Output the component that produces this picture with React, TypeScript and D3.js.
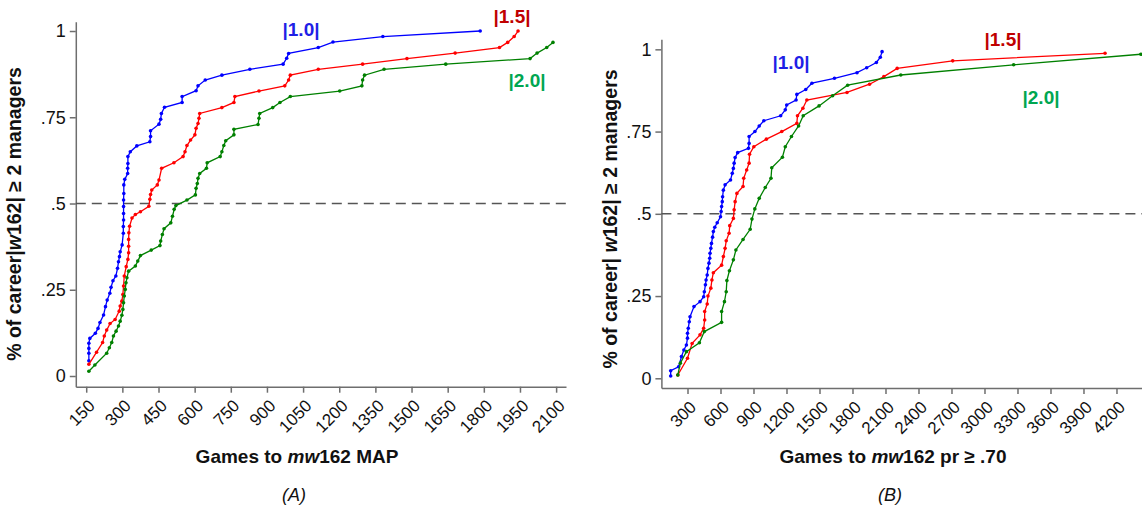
import React, { useEffect, useRef } from "react";
import * as d3 from "d3";

// (A) games to mw162 MAP  -> [games, share]
const aBlue: [number, number][] = [[161,0.044],[161,0.066],[161,0.080],[161,0.095],[165,0.109],[188,0.124],[199,0.138],[207,0.155],[222,0.177],[230,0.201],[237,0.220],[248,0.240],[253,0.257],[261,0.276],[273,0.290],[280,0.312],[284,0.331],[288,0.346],[291,0.360],[299,0.380],[304,0.414],[304,0.433],[305,0.452],[305,0.471],[305,0.491],[305,0.510],[306,0.529],[306,0.554],[310,0.570],[322,0.587],[322,0.602],[323,0.616],[323,0.636],[333,0.650],[360,0.667],[414,0.679],[417,0.694],[417,0.711],[452,0.730],[459,0.744],[462,0.761],[475,0.779],[548,0.793],[548,0.810],[606,0.827],[614,0.841],[644,0.858],[713,0.872],[829,0.889],[967,0.904],[982,0.921],[990,0.935],[1113,0.952],[1174,0.968],[1381,0.984],[1785,1.0]];
const aRed: [number, number][] = [[161,0.034],[193,0.069],[218,0.097],[225,0.116],[235,0.133],[249,0.152],[270,0.164],[287,0.188],[291,0.203],[298,0.217],[302,0.236],[305,0.261],[308,0.290],[316,0.317],[323,0.338],[326,0.357],[326,0.376],[326,0.396],[327,0.415],[330,0.434],[340,0.458],[354,0.468],[375,0.476],[410,0.492],[414,0.512],[417,0.526],[422,0.539],[445,0.554],[452,0.568],[463,0.602],[514,0.618],[552,0.636],[560,0.650],[568,0.668],[583,0.684],[601,0.699],[606,0.718],[614,0.732],[618,0.747],[621,0.761],[713,0.778],[763,0.793],[767,0.810],[867,0.826],[974,0.841],[990,0.858],[997,0.872],[1113,0.889],[1297,0.904],[1481,0.920],[1681,0.936],[1865,0.952],[1899,0.967],[1926,0.984],[1942,1.0]];
const aGreen: [number, number][] = [[161,0.014],[186,0.032],[235,0.066],[246,0.082],[256,0.097],[263,0.116],[274,0.130],[284,0.145],[291,0.159],[298,0.176],[302,0.193],[305,0.212],[308,0.232],[312,0.251],[315,0.270],[319,0.285],[326,0.304],[354,0.319],[364,0.333],[375,0.349],[420,0.365],[456,0.378],[459,0.391],[466,0.410],[473,0.427],[501,0.444],[508,0.463],[515,0.483],[522,0.494],[568,0.510],[603,0.525],[606,0.544],[611,0.558],[614,0.573],[621,0.587],[649,0.602],[652,0.618],[706,0.636],[713,0.650],[721,0.668],[729,0.682],[763,0.699],[763,0.715],[863,0.729],[867,0.747],[870,0.761],[924,0.778],[954,0.793],[997,0.810],[1202,0.826],[1294,0.841],[1297,0.858],[1305,0.872],[1386,0.889],[1642,0.904],[1992,0.920],[2021,0.936],[2061,0.952],[2087,0.967]];

// (B) games to mw162 pr >= .70
const bBlue: [number, number][] = [[147,0.007],[147,0.023],[219,0.035],[245,0.066],[267,0.086],[290,0.101],[300,0.122],[300,0.137],[307,0.152],[316,0.172],[323,0.187],[359,0.218],[414,0.233],[447,0.248],[453,0.263],[463,0.284],[469,0.299],[479,0.314],[486,0.334],[495,0.350],[502,0.365],[505,0.380],[512,0.395],[518,0.410],[528,0.429],[535,0.446],[548,0.459],[570,0.473],[600,0.491],[606,0.507],[610,0.522],[616,0.537],[619,0.552],[626,0.572],[642,0.588],[691,0.603],[707,0.623],[717,0.638],[724,0.654],[733,0.671],[756,0.686],[854,0.699],[860,0.714],[860,0.735],[913,0.750],[952,0.767],[994,0.783],[1147,0.798],[1189,0.816],[1202,0.831],[1287,0.846],[1294,0.863],[1375,0.878],[1431,0.897],[1636,0.912],[1841,0.929],[1929,0.944],[2017,0.960],[2053,0.976],[2069,0.993]];
const bRed: [number, number][] = [[212,0.010],[300,0.061],[342,0.106],[414,0.132],[447,0.152],[456,0.177],[456,0.203],[479,0.226],[486,0.250],[512,0.274],[522,0.299],[535,0.321],[610,0.344],[626,0.370],[642,0.395],[652,0.418],[678,0.441],[684,0.464],[717,0.486],[724,0.512],[733,0.537],[749,0.562],[805,0.583],[811,0.608],[838,0.633],[860,0.654],[864,0.681],[903,0.704],[1017,0.727],[1157,0.750],[1294,0.775],[1300,0.798],[1349,0.821],[1385,0.846],[1750,0.869],[1955,0.894],[2085,0.917],[2206,0.942],[2711,0.965],[4096,0.988]];
const bGreen: [number, number][] = [[212,0.010],[235,0.046],[290,0.081],[408,0.108],[453,0.142],[610,0.170],[610,0.203],[636,0.233],[652,0.263],[658,0.297],[681,0.327],[717,0.360],[740,0.390],[805,0.422],[870,0.453],[886,0.484],[912,0.515],[952,0.547],[1007,0.580],[1059,0.608],[1066,0.640],[1163,0.672],[1189,0.704],[1245,0.735],[1310,0.767],[1352,0.798],[1496,0.828],[1619,0.859],[1756,0.891],[2239,0.922],[3265,0.953],[4421,0.985]];

const yTicks = [0, 0.25, 0.5, 0.75, 1];
const yTickLabels = ["0", ".25", ".5", ".75", "1"];
const aXTicks = [150, 300, 450, 600, 750, 900, 1050, 1200, 1350, 1500, 1650, 1800, 1950, 2100];
const bXTicks = [300, 600, 900, 1200, 1500, 1800, 2100, 2400, 2700, 3000, 3300, 3600, 3900, 4200];
const seriesNames = ["|1.0|", "|1.5|", "|2.0|"];
const lineColors = ["#0000ff", "#ff0000", "#008000"];
const labelColors = ["#1f1fe6", "#c00000", "#00a651"];

const FONT = "'Liberation Sans', Arial, sans-serif";

function drawPanel(svg: any, cfg: any, series: [number, number][][]) {
  const x = d3.scaleLinear().domain(cfg.xDomain).range(cfg.xRange);
  const y = d3.scaleLinear().domain(cfg.yDomain).range(cfg.yRange);
  const g = svg.append("g");

  const yAxis = d3.axisLeft(y).tickValues(yTicks).tickSize(6).tickSizeOuter(0).tickPadding(4)
    .tickFormat((d: any, i: number) => yTickLabels[i]);
  const ya = g.append("g").attr("transform", `translate(${cfg.xRange[0]},0)`).call(yAxis);
  ya.selectAll("path,line").attr("stroke", "#6e6e6e").attr("stroke-width", 1.5);
  ya.selectAll("text").attr("font-size", 18).attr("font-family", FONT).attr("fill", "#111");

  const xAxis = d3.axisBottom(x).tickValues(cfg.xTicks).tickSize(6).tickSizeOuter(0)
    .tickFormat((d: any) => String(d));
  const xa = g.append("g").attr("transform", `translate(0,${cfg.yRange[0]})`).call(xAxis);
  xa.selectAll("path,line").attr("stroke", "#6e6e6e").attr("stroke-width", 1.5);
  xa.selectAll("text")
    .attr("font-size", 17).attr("font-family", FONT).attr("fill", "#111")
    .attr("text-anchor", "end").attr("y", 0).attr("x", 0).attr("dy", "0.35em")
    .attr("transform", "translate(5,16) rotate(-45)");

  // reference line at .5
  g.append("line")
    .attr("x1", cfg.xRange[0]).attr("x2", cfg.xRange[1])
    .attr("y1", y(0.5)).attr("y2", y(0.5))
    .attr("stroke", "#555").attr("stroke-width", 1.5).attr("stroke-dasharray", "10,6");

  const line = d3.line<[number, number]>().x(d => x(d[0])).y(d => y(d[1]));
  series.forEach((s, i) => {
    g.append("path").datum(s).attr("d", line).attr("fill", "none")
      .attr("stroke", lineColors[i]).attr("stroke-width", 1.3);
    g.append("g").selectAll("circle").data(s).join("circle")
      .attr("cx", d => x(d[0])).attr("cy", d => y(d[1])).attr("r", 1.8)
      .attr("fill", lineColors[i]);
  });

  seriesNames.forEach((name, i) => {
    g.append("text").attr("x", cfg.labels[i][0]).attr("y", cfg.labels[i][1])
      .attr("text-anchor", "middle").attr("font-size", 19).attr("font-weight", "bold")
      .attr("font-family", FONT).attr("fill", labelColors[i]).text(name);
  });

  // axis titles
  const yt = g.append("text")
    .attr("transform", `translate(${cfg.yTitle[0]},${cfg.yTitle[1]}) rotate(-90)`)
    .attr("text-anchor", "middle").attr("font-size", 19.5).attr("font-weight", "bold")
    .attr("font-family", FONT).attr("fill", "#111");
  yt.append("tspan").text(cfg.yTitleA);
  yt.append("tspan").attr("font-style", "italic").text("w");
  yt.append("tspan").text("162| \u2265 2 managers");

  const xt = g.append("text").attr("x", cfg.xTitle[0]).attr("y", cfg.xTitle[1])
    .attr("text-anchor", "middle").attr("font-size", 19).attr("font-weight", "bold")
    .attr("font-family", FONT).attr("fill", "#111");
  xt.append("tspan").text("Games to ");
  xt.append("tspan").attr("font-style", "italic").text("mw");
  xt.append("tspan").text(cfg.xTitleB);

  g.append("text").attr("x", cfg.tag[0]).attr("y", cfg.tag[1]).attr("text-anchor", "middle")
    .attr("font-size", 18).attr("font-style", "italic").attr("font-family", FONT)
    .attr("fill", "#111").text(cfg.tagText);
}

export default function App() {
  const ref = useRef<SVGSVGElement>(null);
  useEffect(() => {
    const svg = d3.select(ref.current);
    svg.selectAll("*").remove();
    drawPanel(svg, {
      xDomain: [106.8, 2141], xRange: [75.8, 566],
      yDomain: [-0.031, 1.027], yRange: [386.7, 21.7],
      xTicks: aXTicks,
      labels: [[301, 36], [512, 23], [527, 87]],
      yTitle: [21, 214], yTitleA: "% of career|",
      xTitle: [297, 463], xTitleB: "162 MAP",
      tag: [294, 501], tagText: "(A)",
    }, [aBlue, aRed, aGreen]);
    drawPanel(svg, {
      xDomain: [62.7, 4432], xRange: [661.4, 1142],
      yDomain: [-0.0295, 1.0305], yRange: [388, 39.3],
      xTicks: bXTicks,
      labels: [[791, 69], [1003, 46], [1041, 104]],
      yTitle: [617, 219], yTitleA: "% of career| ",
      xTitle: [893, 463], xTitleB: "162 pr \u2265 .70",
      tag: [890, 501], tagText: "(B)",
    }, [bBlue, bRed, bGreen]);
  }, []);
  return (
    <div style={{ position: "absolute", left: 0, top: 0 }}>
      <svg ref={ref} width={1142} height={510} style={{ display: "block", background: "#fff" }} />
    </div>
  );
}
